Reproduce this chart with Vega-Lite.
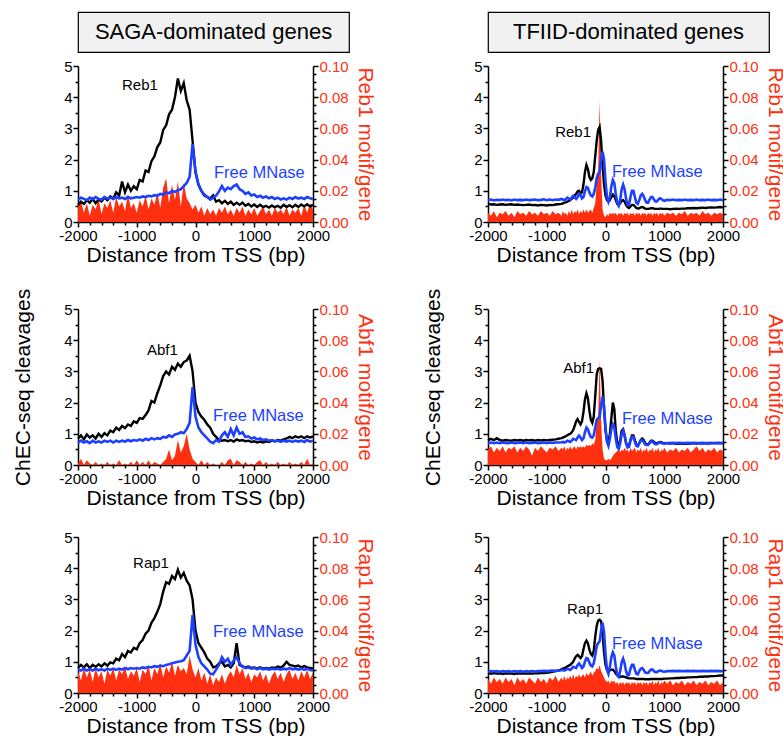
{
"$schema":"https://vega.github.io/schema/vega-lite/v6.json",
"padding":{"left":12,"top":11,"right":5,"bottom":5},
"background":"white",
"config":{"font":"Liberation Sans","view":{"stroke":null},
"axis":{"domainColor":"#000","domainWidth":1.5,"tickColor":"#000","tickWidth":1.5,"labelColor":"#000","labelFont":"Liberation Sans","labelFontSize":15,"titleFont":"Liberation Sans","titleFontWeight":"normal","titleFontSize":21,"titleColor":"#000","grid":false,"labelOverlap":false,"labelBound":false,"labelFlush":false,"labelPadding":1},
"text":{"font":"Liberation Sans"}},
"datasets":{
"lab":[
{"p":"SR","s":"k","x":-640,"y":4.4,"t":"Reb1"},{"p":"SR","s":"f","x":315,"y":1.57,"t":"Free MNase"},
{"p":"SA","s":"k","x":-300,"y":3.7,"t":"Abf1"},{"p":"SA","s":"f","x":297,"y":1.57,"t":"Free MNase"},
{"p":"SP","s":"k","x":-452,"y":4.17,"t":"Rap1"},{"p":"SP","s":"f","x":297,"y":1.96,"t":"Free MNase"},
{"p":"TR","s":"k","x":-247,"y":2.9,"t":"Reb1"},{"p":"TR","s":"f","x":111,"y":1.6,"t":"Free MNase"},
{"p":"TA","s":"k","x":-196,"y":3.1,"t":"Abf1"},{"p":"TA","s":"f","x":281,"y":1.48,"t":"Free MNase"},
{"p":"TP","s":"k","x":-43,"y":2.7,"t":"Rap1"},{"p":"TP","s":"f","x":111,"y":1.57,"t":"Free MNase"}
],
"SR":[
{"x":-2000,"k":0.55,"f":0.72,"m":0.010},{"x":-1950,"k":0.65,"f":0.78,"m":0.014},{"x":-1900,"k":0.58,"f":0.74,"m":0.006},{"x":-1850,"k":0.70,"f":0.70,"m":0.012},{"x":-1800,"k":0.62,"f":0.78,"m":0.004},{"x":-1750,"k":0.74,"f":0.73,"m":0.011},{"x":-1700,"k":0.60,"f":0.80,"m":0.008},{"x":-1650,"k":0.72,"f":0.74,"m":0.015},{"x":-1600,"k":0.66,"f":0.72,"m":0.005},{"x":-1550,"k":0.78,"f":0.80,"m":0.012},{"x":-1500,"k":0.70,"f":0.75,"m":0.009},{"x":-1450,"k":0.82,"f":0.78,"m":0.014},{"x":-1400,"k":0.75,"f":0.74,"m":0.006},{"x":-1350,"k":0.95,"f":0.80,"m":0.016},{"x":-1300,"k":0.85,"f":0.76,"m":0.010},{"x":-1250,"k":1.30,"f":0.78,"m":0.013},{"x":-1200,"k":0.95,"f":0.74,"m":0.007},{"x":-1150,"k":1.20,"f":0.80,"m":0.018},{"x":-1100,"k":1.00,"f":0.76,"m":0.009},{"x":-1050,"k":1.15,"f":0.78,"m":0.012},{"x":-1000,"k":1.05,"f":0.80,"m":0.006},{"x":-950,"k":1.35,"f":0.78,"m":0.014},{"x":-900,"k":1.30,"f":0.82,"m":0.010},{"x":-850,"k":1.65,"f":0.80,"m":0.017},{"x":-800,"k":1.60,"f":0.84,"m":0.008},{"x":-750,"k":1.95,"f":0.82,"m":0.015},{"x":-700,"k":2.10,"f":0.86,"m":0.011},{"x":-650,"k":2.40,"f":0.84,"m":0.019},{"x":-600,"k":2.55,"f":0.90,"m":0.009},{"x":-550,"k":2.95,"f":0.88,"m":0.022},{"x":-500,"k":3.10,"f":0.95,"m":0.028},{"x":-450,"k":3.45,"f":0.92,"m":0.012},{"x":-400,"k":3.60,"f":1.00,"m":0.024},{"x":-350,"k":4.00,"f":0.96,"m":0.014},{"x":-300,"k":4.60,"f":1.02,"m":0.026},{"x":-250,"k":4.20,"f":1.05,"m":0.010},{"x":-200,"k":4.45,"f":1.15,"m":0.025},{"x":-150,"k":3.90,"f":1.25,"m":0.015},{"x":-100,"k":3.60,"f":1.45,"m":0.012},{"x":-50,"k":2.60,"f":2.50,"m":0.008},{"x":0,"k":1.60,"f":1.60,"m":0.011},{"x":50,"k":1.20,"f":1.20,"m":0.006},{"x":100,"k":1.00,"f":1.00,"m":0.010},{"x":150,"k":0.85,"f":0.88,"m":0.004},{"x":200,"k":0.80,"f":0.80,"m":0.009},{"x":250,"k":0.75,"f":0.72,"m":0.005},{"x":300,"k":0.85,"f":0.78,"m":0.008},{"x":350,"k":0.65,"f":0.85,"m":0.004},{"x":400,"k":0.70,"f":0.98,"m":0.009},{"x":450,"k":0.60,"f":1.15,"m":0.006},{"x":500,"k":0.68,"f":1.00,"m":0.010},{"x":550,"k":0.58,"f":1.10,"m":0.005},{"x":600,"k":0.65,"f":1.05,"m":0.008},{"x":650,"k":0.55,"f":1.15,"m":0.004},{"x":700,"k":0.62,"f":1.20,"m":0.009},{"x":750,"k":0.55,"f":1.05,"m":0.006},{"x":800,"k":0.62,"f":1.00,"m":0.010},{"x":850,"k":0.52,"f":0.90,"m":0.004},{"x":900,"k":0.58,"f":0.95,"m":0.008},{"x":950,"k":0.50,"f":0.85,"m":0.005},{"x":1000,"k":0.56,"f":0.88,"m":0.009},{"x":1050,"k":0.48,"f":0.80,"m":0.004},{"x":1100,"k":0.55,"f":0.84,"m":0.007},{"x":1150,"k":0.48,"f":0.78,"m":0.010},{"x":1200,"k":0.52,"f":0.82,"m":0.005},{"x":1250,"k":0.46,"f":0.76,"m":0.008},{"x":1300,"k":0.53,"f":0.80,"m":0.004},{"x":1350,"k":0.47,"f":0.74,"m":0.009},{"x":1400,"k":0.52,"f":0.78,"m":0.006},{"x":1450,"k":0.46,"f":0.72,"m":0.008},{"x":1500,"k":0.55,"f":0.76,"m":0.005},{"x":1550,"k":0.48,"f":0.72,"m":0.010},{"x":1600,"k":0.54,"f":0.78,"m":0.004},{"x":1650,"k":0.47,"f":0.74,"m":0.008},{"x":1700,"k":0.55,"f":0.80,"m":0.006},{"x":1750,"k":0.48,"f":0.75,"m":0.009},{"x":1800,"k":0.56,"f":0.78,"m":0.004},{"x":1850,"k":0.50,"f":0.74,"m":0.011},{"x":1900,"k":0.57,"f":0.80,"m":0.006},{"x":1950,"k":0.50,"f":0.76,"m":0.012},{"x":2000,"k":0.55,"f":0.74,"m":0.008}
],
"SA":[
{"x":-2000,"k":0.85,"f":0.72,"m":0.001},{"x":-1950,"k":0.95,"f":0.78,"m":0.004},{"x":-1900,"k":0.82,"f":0.72,"m":0.000},{"x":-1850,"k":0.98,"f":0.76,"m":0.003},{"x":-1800,"k":0.88,"f":0.70,"m":0.001},{"x":-1750,"k":0.95,"f":0.78,"m":0.000},{"x":-1700,"k":0.85,"f":0.72,"m":0.002},{"x":-1650,"k":1.00,"f":0.76,"m":0.000},{"x":-1600,"k":0.90,"f":0.72,"m":0.001},{"x":-1550,"k":1.02,"f":0.78,"m":0.000},{"x":-1500,"k":0.95,"f":0.74,"m":0.002},{"x":-1450,"k":1.10,"f":0.78,"m":0.000},{"x":-1400,"k":1.05,"f":0.72,"m":0.001},{"x":-1350,"k":1.20,"f":0.78,"m":0.000},{"x":-1300,"k":1.12,"f":0.74,"m":0.003},{"x":-1250,"k":1.25,"f":0.78,"m":0.000},{"x":-1200,"k":1.18,"f":0.75,"m":0.001},{"x":-1150,"k":1.30,"f":0.80,"m":0.000},{"x":-1100,"k":1.25,"f":0.76,"m":0.002},{"x":-1050,"k":1.40,"f":0.80,"m":0.000},{"x":-1000,"k":1.35,"f":0.78,"m":0.003},{"x":-950,"k":1.50,"f":0.82,"m":0.000},{"x":-900,"k":1.48,"f":0.78,"m":0.002},{"x":-850,"k":1.60,"f":0.84,"m":0.000},{"x":-800,"k":1.75,"f":0.80,"m":0.003},{"x":-750,"k":2.05,"f":0.86,"m":0.000},{"x":-700,"k":2.00,"f":0.82,"m":0.002},{"x":-650,"k":2.30,"f":0.86,"m":0.001},{"x":-600,"k":2.55,"f":0.84,"m":0.000},{"x":-550,"k":2.85,"f":0.90,"m":0.002},{"x":-500,"k":3.00,"f":0.88,"m":0.004},{"x":-450,"k":2.90,"f":0.95,"m":0.010},{"x":-400,"k":3.15,"f":0.90,"m":0.003},{"x":-350,"k":3.05,"f":0.98,"m":0.006},{"x":-300,"k":3.25,"f":1.00,"m":0.016},{"x":-250,"k":3.15,"f":1.05,"m":0.008},{"x":-200,"k":3.30,"f":1.02,"m":0.012},{"x":-150,"k":3.35,"f":1.15,"m":0.020},{"x":-100,"k":3.50,"f":1.35,"m":0.010},{"x":-50,"k":3.00,"f":2.50,"m":0.004},{"x":0,"k":2.00,"f":1.55,"m":0.002},{"x":50,"k":1.70,"f":1.20,"m":0.000},{"x":100,"k":1.55,"f":1.05,"m":0.003},{"x":150,"k":1.45,"f":0.95,"m":0.000},{"x":200,"k":1.30,"f":0.85,"m":0.002},{"x":250,"k":1.20,"f":0.75,"m":0.000},{"x":300,"k":1.00,"f":0.70,"m":0.001},{"x":350,"k":0.90,"f":0.80,"m":0.000},{"x":400,"k":0.80,"f":0.75,"m":0.000},{"x":450,"k":0.78,"f":0.95,"m":0.002},{"x":500,"k":0.80,"f":1.05,"m":0.000},{"x":550,"k":0.76,"f":0.90,"m":0.003},{"x":600,"k":0.80,"f":1.15,"m":0.004},{"x":650,"k":0.75,"f":0.95,"m":0.000},{"x":700,"k":0.82,"f":1.20,"m":0.003},{"x":750,"k":0.78,"f":1.00,"m":0.002},{"x":800,"k":0.80,"f":1.05,"m":0.000},{"x":850,"k":0.76,"f":0.90,"m":0.002},{"x":900,"k":0.78,"f":0.92,"m":0.000},{"x":950,"k":0.74,"f":0.85,"m":0.001},{"x":1000,"k":0.76,"f":0.88,"m":0.000},{"x":1050,"k":0.72,"f":0.82,"m":0.002},{"x":1100,"k":0.75,"f":0.85,"m":0.003},{"x":1150,"k":0.72,"f":0.80,"m":0.000},{"x":1200,"k":0.76,"f":0.82,"m":0.002},{"x":1250,"k":0.74,"f":0.78,"m":0.000},{"x":1300,"k":0.78,"f":0.80,"m":0.001},{"x":1350,"k":0.76,"f":0.76,"m":0.000},{"x":1400,"k":0.80,"f":0.78,"m":0.002},{"x":1450,"k":0.78,"f":0.74,"m":0.000},{"x":1500,"k":0.82,"f":0.78,"m":0.001},{"x":1550,"k":0.85,"f":0.75,"m":0.000},{"x":1600,"k":0.90,"f":0.78,"m":0.002},{"x":1650,"k":0.86,"f":0.74,"m":0.000},{"x":1700,"k":0.92,"f":0.78,"m":0.001},{"x":1750,"k":0.88,"f":0.75,"m":0.000},{"x":1800,"k":0.92,"f":0.78,"m":0.002},{"x":1850,"k":0.86,"f":0.74,"m":0.000},{"x":1900,"k":0.92,"f":0.80,"m":0.004},{"x":1950,"k":0.88,"f":0.75,"m":0.000},{"x":2000,"k":0.92,"f":0.78,"m":0.001}
],
"SP":[
{"x":-2000,"k":0.80,"f":0.75,"m":0.014},{"x":-1950,"k":0.90,"f":0.72,"m":0.008},{"x":-1900,"k":0.82,"f":0.78,"m":0.016},{"x":-1850,"k":0.92,"f":0.72,"m":0.010},{"x":-1800,"k":0.80,"f":0.76,"m":0.015},{"x":-1750,"k":0.90,"f":0.72,"m":0.007},{"x":-1700,"k":0.84,"f":0.78,"m":0.016},{"x":-1650,"k":0.92,"f":0.73,"m":0.010},{"x":-1600,"k":0.85,"f":0.76,"m":0.014},{"x":-1550,"k":0.95,"f":0.72,"m":0.006},{"x":-1500,"k":0.88,"f":0.78,"m":0.015},{"x":-1450,"k":0.98,"f":0.74,"m":0.011},{"x":-1400,"k":0.95,"f":0.78,"m":0.016},{"x":-1350,"k":1.10,"f":0.74,"m":0.008},{"x":-1300,"k":1.05,"f":0.78,"m":0.015},{"x":-1250,"k":1.25,"f":0.75,"m":0.012},{"x":-1200,"k":1.15,"f":0.80,"m":0.017},{"x":-1150,"k":1.35,"f":0.76,"m":0.009},{"x":-1100,"k":1.30,"f":0.80,"m":0.014},{"x":-1050,"k":1.45,"f":0.78,"m":0.011},{"x":-1000,"k":1.40,"f":0.80,"m":0.016},{"x":-950,"k":1.60,"f":0.78,"m":0.007},{"x":-900,"k":1.70,"f":0.82,"m":0.015},{"x":-850,"k":1.90,"f":0.80,"m":0.012},{"x":-800,"k":2.00,"f":0.84,"m":0.018},{"x":-750,"k":2.25,"f":0.82,"m":0.008},{"x":-700,"k":2.40,"f":0.86,"m":0.016},{"x":-650,"k":2.60,"f":0.84,"m":0.012},{"x":-600,"k":2.85,"f":0.88,"m":0.019},{"x":-550,"k":3.25,"f":0.86,"m":0.010},{"x":-500,"k":3.55,"f":0.90,"m":0.017},{"x":-450,"k":3.50,"f":0.92,"m":0.013},{"x":-400,"k":3.75,"f":0.95,"m":0.020},{"x":-350,"k":3.65,"f":0.98,"m":0.011},{"x":-300,"k":3.95,"f":1.00,"m":0.018},{"x":-250,"k":3.70,"f":1.02,"m":0.014},{"x":-200,"k":3.85,"f":1.05,"m":0.016},{"x":-150,"k":3.60,"f":1.20,"m":0.012},{"x":-100,"k":3.45,"f":1.35,"m":0.024},{"x":-50,"k":3.00,"f":2.50,"m":0.015},{"x":0,"k":2.00,"f":1.55,"m":0.010},{"x":50,"k":1.60,"f":1.15,"m":0.016},{"x":100,"k":1.45,"f":0.95,"m":0.008},{"x":150,"k":1.30,"f":0.85,"m":0.013},{"x":200,"k":1.10,"f":0.75,"m":0.006},{"x":250,"k":1.00,"f":0.62,"m":0.012},{"x":300,"k":0.82,"f":0.60,"m":0.005},{"x":350,"k":0.85,"f":0.75,"m":0.010},{"x":400,"k":0.95,"f":0.90,"m":0.007},{"x":450,"k":1.00,"f":1.15,"m":0.012},{"x":500,"k":0.85,"f":1.00,"m":0.006},{"x":550,"k":0.90,"f":1.10,"m":0.011},{"x":600,"k":0.82,"f":0.90,"m":0.014},{"x":650,"k":0.95,"f":1.05,"m":0.010},{"x":700,"k":1.60,"f":1.15,"m":0.018},{"x":750,"k":0.90,"f":0.95,"m":0.012},{"x":800,"k":0.85,"f":0.85,"m":0.016},{"x":850,"k":0.82,"f":0.80,"m":0.009},{"x":900,"k":0.85,"f":0.82,"m":0.013},{"x":950,"k":0.80,"f":0.78,"m":0.007},{"x":1000,"k":0.82,"f":0.80,"m":0.012},{"x":1050,"k":0.78,"f":0.76,"m":0.010},{"x":1100,"k":0.82,"f":0.80,"m":0.014},{"x":1150,"k":0.78,"f":0.76,"m":0.008},{"x":1200,"k":0.80,"f":0.78,"m":0.012},{"x":1250,"k":0.78,"f":0.75,"m":0.006},{"x":1300,"k":0.82,"f":0.78,"m":0.011},{"x":1350,"k":0.80,"f":0.76,"m":0.014},{"x":1400,"k":0.85,"f":0.78,"m":0.009},{"x":1450,"k":0.82,"f":0.75,"m":0.013},{"x":1500,"k":0.88,"f":0.78,"m":0.007},{"x":1550,"k":1.00,"f":0.76,"m":0.012},{"x":1600,"k":0.90,"f":0.80,"m":0.015},{"x":1650,"k":0.88,"f":0.76,"m":0.009},{"x":1700,"k":0.85,"f":0.78,"m":0.013},{"x":1750,"k":0.88,"f":0.75,"m":0.008},{"x":1800,"k":0.82,"f":0.78,"m":0.014},{"x":1850,"k":0.86,"f":0.74,"m":0.010},{"x":1900,"k":0.82,"f":0.78,"m":0.015},{"x":1950,"k":0.80,"f":0.74,"m":0.009},{"x":2000,"k":0.78,"f":0.72,"m":0.013}
],
"TR":[
{"x":-2000,"k":0.58,"f":0.70,"m":0.006},{"x":-1950,"k":0.56,"f":0.72,"m":0.004},{"x":-1900,"k":0.57,"f":0.69,"m":0.007},{"x":-1850,"k":0.55,"f":0.71,"m":0.003},{"x":-1800,"k":0.56,"f":0.70,"m":0.006},{"x":-1750,"k":0.57,"f":0.72,"m":0.005},{"x":-1700,"k":0.55,"f":0.70,"m":0.007},{"x":-1650,"k":0.56,"f":0.71,"m":0.004},{"x":-1600,"k":0.57,"f":0.69,"m":0.006},{"x":-1550,"k":0.55,"f":0.72,"m":0.003},{"x":-1500,"k":0.56,"f":0.70,"m":0.007},{"x":-1450,"k":0.55,"f":0.71,"m":0.005},{"x":-1400,"k":0.54,"f":0.70,"m":0.006},{"x":-1350,"k":0.55,"f":0.72,"m":0.004},{"x":-1300,"k":0.56,"f":0.70,"m":0.007},{"x":-1250,"k":0.54,"f":0.71,"m":0.005},{"x":-1200,"k":0.55,"f":0.72,"m":0.006},{"x":-1150,"k":0.53,"f":0.70,"m":0.004},{"x":-1100,"k":0.55,"f":0.71,"m":0.007},{"x":-1050,"k":0.54,"f":0.73,"m":0.005},{"x":-1000,"k":0.53,"f":0.70,"m":0.006},{"x":-950,"k":0.55,"f":0.72,"m":0.004},{"x":-900,"k":0.54,"f":0.70,"m":0.007},{"x":-850,"k":0.56,"f":0.72,"m":0.005},{"x":-800,"k":0.57,"f":0.71,"m":0.006},{"x":-750,"k":0.58,"f":0.74,"m":0.004},
{"x":-725,"k":0.60,"f":0.72,"m":0.007},{"x":-700,"k":0.62,"f":0.70,"m":0.005},{"x":-675,"k":0.63,"f":0.74,"m":0.006},{"x":-650,"k":0.65,"f":0.78,"m":0.004},{"x":-625,"k":0.68,"f":0.75,"m":0.007},{"x":-600,"k":0.70,"f":0.72,"m":0.005},{"x":-575,"k":0.74,"f":0.78,"m":0.008},{"x":-550,"k":0.78,"f":0.84,"m":0.005},{"x":-525,"k":0.85,"f":0.80,"m":0.007},{"x":-500,"k":0.90,"f":0.74,"m":0.006},{"x":-475,"k":0.98,"f":0.80,"m":0.008},{"x":-450,"k":1.00,"f":0.90,"m":0.005},{"x":-425,"k":0.92,"f":0.86,"m":0.007},{"x":-400,"k":0.95,"f":0.76,"m":0.006},{"x":-375,"k":1.20,"f":0.80,"m":0.008},{"x":-350,"k":1.60,"f":0.98,"m":0.006},{"x":-325,"k":1.83,"f":1.12,"m":0.008},{"x":-300,"k":1.70,"f":1.10,"m":0.006},{"x":-275,"k":1.45,"f":0.95,"m":0.007},{"x":-250,"k":1.35,"f":0.85,"m":0.008},{"x":-225,"k":1.40,"f":0.82,"m":0.006},{"x":-200,"k":1.60,"f":0.90,"m":0.009},{"x":-175,"k":2.10,"f":1.10,"m":0.012},{"x":-150,"k":2.60,"f":1.40,"m":0.024},{"x":-125,"k":2.95,"f":1.55,"m":0.032},{"x":-100,"k":3.05,"f":1.60,"m":0.078},{"x":-75,"k":2.60,"f":2.00,"m":0.030},{"x":-50,"k":1.80,"f":2.25,"m":0.008},{"x":-25,"k":1.20,"f":2.00,"m":0.004},{"x":0,"k":0.85,"f":1.30,"m":0.003},{"x":25,"k":0.70,"f":0.80,"m":0.005},{"x":50,"k":0.65,"f":0.65,"m":0.004},{"x":75,"k":0.70,"f":0.80,"m":0.006},{"x":100,"k":0.80,"f":1.15,"m":0.005},{"x":125,"k":0.88,"f":1.35,"m":0.006},{"x":150,"k":0.82,"f":1.25,"m":0.005},{"x":175,"k":0.70,"f":0.90,"m":0.006},{"x":200,"k":0.58,"f":0.62,"m":0.004},{"x":225,"k":0.55,"f":0.52,"m":0.006},{"x":250,"k":0.60,"f":0.70,"m":0.005},{"x":275,"k":0.68,"f":1.05,"m":0.006},{"x":300,"k":0.70,"f":1.20,"m":0.004},{"x":325,"k":0.65,"f":1.05,"m":0.006},{"x":350,"k":0.55,"f":0.75,"m":0.005},{"x":375,"k":0.48,"f":0.55,"m":0.006},{"x":400,"k":0.45,"f":0.55,"m":0.004},{"x":425,"k":0.50,"f":0.80,"m":0.006},{"x":450,"k":0.55,"f":1.00,"m":0.005},{"x":475,"k":0.55,"f":1.00,"m":0.006},{"x":500,"k":0.50,"f":0.80,"m":0.004},{"x":525,"k":0.45,"f":0.62,"m":0.006},{"x":550,"k":0.43,"f":0.58,"m":0.005},{"x":575,"k":0.44,"f":0.70,"m":0.006},{"x":600,"k":0.47,"f":0.85,"m":0.004},{"x":625,"k":0.48,"f":0.90,"m":0.006},{"x":650,"k":0.46,"f":0.82,"m":0.005},{"x":675,"k":0.43,"f":0.70,"m":0.006},{"x":700,"k":0.42,"f":0.62,"m":0.004},{"x":725,"k":0.42,"f":0.62,"m":0.006},{"x":750,"k":0.43,"f":0.72,"m":0.005},{"x":775,"k":0.44,"f":0.80,"m":0.006},{"x":800,"k":0.44,"f":0.80,"m":0.004},{"x":825,"k":0.43,"f":0.72,"m":0.006},{"x":850,"k":0.42,"f":0.66,"m":0.005},{"x":875,"k":0.42,"f":0.66,"m":0.006},{"x":900,"k":0.42,"f":0.72,"m":0.004},{"x":925,"k":0.43,"f":0.76,"m":0.006},{"x":950,"k":0.43,"f":0.74,"m":0.005},{"x":975,"k":0.42,"f":0.70,"m":0.006},{"x":1000,"k":0.42,"f":0.68,"m":0.004},
{"x":1050,"k":0.42,"f":0.71,"m":0.006},{"x":1100,"k":0.41,"f":0.70,"m":0.005},{"x":1150,"k":0.42,"f":0.72,"m":0.006},{"x":1200,"k":0.43,"f":0.70,"m":0.004},{"x":1250,"k":0.42,"f":0.71,"m":0.006},{"x":1300,"k":0.43,"f":0.70,"m":0.005},{"x":1350,"k":0.43,"f":0.72,"m":0.007},{"x":1400,"k":0.44,"f":0.70,"m":0.004},{"x":1450,"k":0.44,"f":0.71,"m":0.006},{"x":1500,"k":0.45,"f":0.70,"m":0.005},{"x":1550,"k":0.44,"f":0.72,"m":0.006},{"x":1600,"k":0.45,"f":0.70,"m":0.004},{"x":1650,"k":0.46,"f":0.71,"m":0.007},{"x":1700,"k":0.45,"f":0.70,"m":0.005},{"x":1750,"k":0.46,"f":0.72,"m":0.006},{"x":1800,"k":0.47,"f":0.70,"m":0.004},{"x":1850,"k":0.46,"f":0.71,"m":0.006},{"x":1900,"k":0.47,"f":0.70,"m":0.005},{"x":1950,"k":0.48,"f":0.72,"m":0.006},{"x":2000,"k":0.47,"f":0.70,"m":0.005}
],
"TA":[
{"x":-2000,"k":0.80,"f":0.70,"m":0.010},{"x":-1950,"k":0.84,"f":0.72,"m":0.012},{"x":-1900,"k":0.80,"f":0.70,"m":0.008},{"x":-1850,"k":0.86,"f":0.72,"m":0.011},{"x":-1800,"k":0.80,"f":0.70,"m":0.009},{"x":-1750,"k":0.78,"f":0.72,"m":0.012},{"x":-1700,"k":0.80,"f":0.71,"m":0.008},{"x":-1650,"k":0.79,"f":0.70,"m":0.011},{"x":-1600,"k":0.78,"f":0.72,"m":0.010},{"x":-1550,"k":0.80,"f":0.70,"m":0.012},{"x":-1500,"k":0.79,"f":0.71,"m":0.008},{"x":-1450,"k":0.80,"f":0.72,"m":0.011},{"x":-1400,"k":0.78,"f":0.70,"m":0.009},{"x":-1350,"k":0.80,"f":0.72,"m":0.012},{"x":-1300,"k":0.79,"f":0.70,"m":0.010},{"x":-1250,"k":0.80,"f":0.71,"m":0.006},{"x":-1200,"k":0.78,"f":0.72,"m":0.011},{"x":-1150,"k":0.80,"f":0.70,"m":0.009},{"x":-1100,"k":0.79,"f":0.71,"m":0.012},{"x":-1050,"k":0.80,"f":0.72,"m":0.010},{"x":-1000,"k":0.79,"f":0.70,"m":0.008},{"x":-950,"k":0.80,"f":0.72,"m":0.011},{"x":-900,"k":0.81,"f":0.71,"m":0.010},{"x":-850,"k":0.82,"f":0.72,"m":0.012},{"x":-800,"k":0.84,"f":0.72,"m":0.009},{"x":-750,"k":0.86,"f":0.73,"m":0.011},
{"x":-725,"k":0.88,"f":0.74,"m":0.010},{"x":-700,"k":0.90,"f":0.72,"m":0.012},{"x":-675,"k":0.92,"f":0.74,"m":0.009},{"x":-650,"k":0.95,"f":0.78,"m":0.011},{"x":-625,"k":0.98,"f":0.76,"m":0.010},{"x":-600,"k":1.00,"f":0.74,"m":0.012},{"x":-575,"k":1.05,"f":0.78,"m":0.010},{"x":-550,"k":1.12,"f":0.84,"m":0.011},{"x":-525,"k":1.25,"f":0.82,"m":0.012},{"x":-500,"k":1.40,"f":0.80,"m":0.010},{"x":-475,"k":1.47,"f":0.88,"m":0.012},{"x":-450,"k":1.38,"f":0.94,"m":0.011},{"x":-425,"k":1.30,"f":0.88,"m":0.012},{"x":-400,"k":1.40,"f":0.80,"m":0.011},{"x":-375,"k":1.70,"f":0.85,"m":0.012},{"x":-350,"k":2.10,"f":1.05,"m":0.011},{"x":-325,"k":2.30,"f":1.20,"m":0.013},{"x":-300,"k":2.15,"f":1.15,"m":0.012},{"x":-275,"k":1.75,"f":1.00,"m":0.013},{"x":-250,"k":1.45,"f":0.90,"m":0.012},{"x":-225,"k":1.35,"f":0.88,"m":0.014},{"x":-200,"k":1.55,"f":0.95,"m":0.013},{"x":-175,"k":2.20,"f":1.20,"m":0.016},{"x":-150,"k":2.90,"f":1.45,"m":0.028},{"x":-125,"k":3.08,"f":1.50,"m":0.030},{"x":-100,"k":3.10,"f":1.55,"m":0.068},{"x":-75,"k":3.08,"f":1.90,"m":0.028},{"x":-50,"k":2.70,"f":2.20,"m":0.010},{"x":-25,"k":1.80,"f":1.90,"m":0.004},{"x":0,"k":1.10,"f":1.20,"m":0.003},{"x":25,"k":0.80,"f":0.75,"m":0.003},{"x":50,"k":0.75,"f":0.62,"m":0.004},{"x":75,"k":1.00,"f":0.85,"m":0.003},{"x":100,"k":1.50,"f":1.15,"m":0.004},{"x":125,"k":2.00,"f":1.30,"m":0.006},{"x":150,"k":1.80,"f":1.20,"m":0.007},{"x":175,"k":1.10,"f":0.85,"m":0.008},{"x":200,"k":0.70,"f":0.58,"m":0.009},{"x":225,"k":0.60,"f":0.52,"m":0.010},{"x":250,"k":0.80,"f":0.70,"m":0.008},{"x":275,"k":1.10,"f":0.98,"m":0.010},{"x":300,"k":1.15,"f":1.10,"m":0.009},{"x":325,"k":0.95,"f":0.95,"m":0.011},{"x":350,"k":0.70,"f":0.70,"m":0.009},{"x":375,"k":0.60,"f":0.56,"m":0.010},{"x":400,"k":0.62,"f":0.58,"m":0.008},{"x":425,"k":0.80,"f":0.78,"m":0.011},{"x":450,"k":0.95,"f":0.90,"m":0.009},{"x":475,"k":0.95,"f":0.90,"m":0.010},{"x":500,"k":0.80,"f":0.75,"m":0.011},{"x":525,"k":0.65,"f":0.62,"m":0.008},{"x":550,"k":0.62,"f":0.60,"m":0.010},{"x":575,"k":0.70,"f":0.70,"m":0.009},{"x":600,"k":0.80,"f":0.78,"m":0.011},{"x":625,"k":0.85,"f":0.80,"m":0.008},{"x":650,"k":0.80,"f":0.74,"m":0.010},{"x":675,"k":0.70,"f":0.66,"m":0.009},{"x":700,"k":0.66,"f":0.64,"m":0.011},{"x":725,"k":0.66,"f":0.64,"m":0.008},{"x":750,"k":0.72,"f":0.70,"m":0.010},{"x":775,"k":0.78,"f":0.75,"m":0.009},{"x":800,"k":0.78,"f":0.75,"m":0.011},{"x":825,"k":0.74,"f":0.70,"m":0.008},{"x":850,"k":0.70,"f":0.67,"m":0.010},{"x":875,"k":0.70,"f":0.67,"m":0.009},{"x":900,"k":0.72,"f":0.70,"m":0.011},{"x":925,"k":0.74,"f":0.72,"m":0.008},{"x":950,"k":0.73,"f":0.71,"m":0.010},{"x":975,"k":0.71,"f":0.69,"m":0.009},{"x":1000,"k":0.70,"f":0.68,"m":0.011},
{"x":1050,"k":0.70,"f":0.70,"m":0.008},{"x":1100,"k":0.69,"f":0.70,"m":0.010},{"x":1150,"k":0.70,"f":0.71,"m":0.009},{"x":1200,"k":0.68,"f":0.70,"m":0.011},{"x":1250,"k":0.69,"f":0.71,"m":0.008},{"x":1300,"k":0.68,"f":0.70,"m":0.010},{"x":1350,"k":0.69,"f":0.70,"m":0.009},{"x":1400,"k":0.68,"f":0.71,"m":0.011},{"x":1450,"k":0.69,"f":0.70,"m":0.008},{"x":1500,"k":0.70,"f":0.71,"m":0.010},{"x":1550,"k":0.69,"f":0.70,"m":0.012},{"x":1600,"k":0.70,"f":0.70,"m":0.009},{"x":1650,"k":0.69,"f":0.71,"m":0.011},{"x":1700,"k":0.70,"f":0.70,"m":0.008},{"x":1750,"k":0.69,"f":0.70,"m":0.010},{"x":1800,"k":0.70,"f":0.71,"m":0.009},{"x":1850,"k":0.70,"f":0.70,"m":0.011},{"x":1900,"k":0.71,"f":0.70,"m":0.008},{"x":1950,"k":0.70,"f":0.71,"m":0.010},{"x":2000,"k":0.70,"f":0.70,"m":0.009}
],
"TP":[
{"x":-2000,"k":0.65,"f":0.68,"m":0.009},{"x":-1950,"k":0.62,"f":0.70,"m":0.006},{"x":-1900,"k":0.64,"f":0.69,"m":0.010},{"x":-1850,"k":0.62,"f":0.70,"m":0.007},{"x":-1800,"k":0.63,"f":0.68,"m":0.009},{"x":-1750,"k":0.61,"f":0.70,"m":0.006},{"x":-1700,"k":0.63,"f":0.69,"m":0.010},{"x":-1650,"k":0.62,"f":0.70,"m":0.007},{"x":-1600,"k":0.62,"f":0.68,"m":0.009},{"x":-1550,"k":0.61,"f":0.70,"m":0.005},{"x":-1500,"k":0.63,"f":0.69,"m":0.010},{"x":-1450,"k":0.62,"f":0.70,"m":0.007},{"x":-1400,"k":0.63,"f":0.68,"m":0.009},{"x":-1350,"k":0.62,"f":0.70,"m":0.006},{"x":-1300,"k":0.63,"f":0.69,"m":0.010},{"x":-1250,"k":0.62,"f":0.70,"m":0.008},{"x":-1200,"k":0.63,"f":0.69,"m":0.006},{"x":-1150,"k":0.63,"f":0.70,"m":0.010},{"x":-1100,"k":0.64,"f":0.70,"m":0.007},{"x":-1050,"k":0.64,"f":0.71,"m":0.009},{"x":-1000,"k":0.65,"f":0.70,"m":0.006},{"x":-950,"k":0.66,"f":0.71,"m":0.010},{"x":-900,"k":0.68,"f":0.72,"m":0.008},{"x":-850,"k":0.70,"f":0.71,"m":0.011},{"x":-800,"k":0.72,"f":0.72,"m":0.007},{"x":-750,"k":0.76,"f":0.73,"m":0.010},
{"x":-725,"k":0.78,"f":0.74,"m":0.008},{"x":-700,"k":0.80,"f":0.72,"m":0.011},{"x":-675,"k":0.82,"f":0.74,"m":0.008},{"x":-650,"k":0.85,"f":0.78,"m":0.010},{"x":-625,"k":0.88,"f":0.76,"m":0.009},{"x":-600,"k":0.90,"f":0.74,"m":0.011},{"x":-575,"k":0.95,"f":0.78,"m":0.009},{"x":-550,"k":1.00,"f":0.84,"m":0.012},{"x":-525,"k":1.10,"f":0.82,"m":0.009},{"x":-500,"k":1.18,"f":0.80,"m":0.011},{"x":-475,"k":1.22,"f":0.90,"m":0.010},{"x":-450,"k":1.18,"f":0.95,"m":0.012},{"x":-425,"k":1.12,"f":0.88,"m":0.010},{"x":-400,"k":1.18,"f":0.80,"m":0.011},{"x":-375,"k":1.40,"f":0.85,"m":0.012},{"x":-350,"k":1.60,"f":1.00,"m":0.010},{"x":-325,"k":1.68,"f":1.12,"m":0.013},{"x":-300,"k":1.60,"f":1.10,"m":0.011},{"x":-275,"k":1.40,"f":0.98,"m":0.012},{"x":-250,"k":1.25,"f":0.88,"m":0.014},{"x":-225,"k":1.20,"f":0.85,"m":0.011},{"x":-200,"k":1.35,"f":0.95,"m":0.013},{"x":-175,"k":1.80,"f":1.20,"m":0.014},{"x":-150,"k":2.15,"f":1.50,"m":0.016},{"x":-125,"k":2.32,"f":1.60,"m":0.015},{"x":-100,"k":2.35,"f":1.65,"m":0.018},{"x":-75,"k":2.30,"f":2.00,"m":0.014},{"x":-50,"k":1.90,"f":2.25,"m":0.012},{"x":-25,"k":1.30,"f":1.95,"m":0.010},{"x":0,"k":0.90,"f":1.25,"m":0.008},{"x":25,"k":0.75,"f":0.75,"m":0.007},{"x":50,"k":0.70,"f":0.62,"m":0.008},{"x":75,"k":0.72,"f":0.85,"m":0.006},{"x":100,"k":0.75,"f":1.15,"m":0.008},{"x":125,"k":0.75,"f":1.30,"m":0.007},{"x":150,"k":0.70,"f":1.20,"m":0.008},{"x":175,"k":0.62,"f":0.85,"m":0.006},{"x":200,"k":0.56,"f":0.58,"m":0.007},{"x":225,"k":0.52,"f":0.52,"m":0.005},{"x":250,"k":0.52,"f":0.70,"m":0.007},{"x":275,"k":0.53,"f":0.98,"m":0.006},{"x":300,"k":0.53,"f":1.10,"m":0.007},{"x":325,"k":0.52,"f":0.95,"m":0.005},{"x":350,"k":0.50,"f":0.70,"m":0.007},{"x":375,"k":0.48,"f":0.56,"m":0.006},{"x":400,"k":0.47,"f":0.58,"m":0.007},{"x":425,"k":0.47,"f":0.78,"m":0.005},{"x":450,"k":0.47,"f":0.90,"m":0.007},{"x":475,"k":0.47,"f":0.90,"m":0.006},{"x":500,"k":0.46,"f":0.75,"m":0.007},{"x":525,"k":0.45,"f":0.62,"m":0.005},{"x":550,"k":0.45,"f":0.60,"m":0.007},{"x":575,"k":0.45,"f":0.70,"m":0.006},{"x":600,"k":0.45,"f":0.78,"m":0.007},{"x":625,"k":0.45,"f":0.80,"m":0.005},{"x":650,"k":0.45,"f":0.74,"m":0.007},{"x":675,"k":0.44,"f":0.66,"m":0.006},{"x":700,"k":0.44,"f":0.64,"m":0.007},{"x":725,"k":0.44,"f":0.64,"m":0.005},{"x":750,"k":0.44,"f":0.70,"m":0.007},{"x":775,"k":0.45,"f":0.75,"m":0.006},{"x":800,"k":0.45,"f":0.75,"m":0.008},{"x":825,"k":0.45,"f":0.70,"m":0.005},{"x":850,"k":0.45,"f":0.67,"m":0.007},{"x":875,"k":0.45,"f":0.67,"m":0.006},{"x":900,"k":0.45,"f":0.70,"m":0.008},{"x":925,"k":0.45,"f":0.72,"m":0.005},{"x":950,"k":0.45,"f":0.71,"m":0.007},{"x":975,"k":0.45,"f":0.69,"m":0.006},{"x":1000,"k":0.46,"f":0.68,"m":0.008},
{"x":1050,"k":0.46,"f":0.70,"m":0.006},{"x":1100,"k":0.47,"f":0.70,"m":0.008},{"x":1150,"k":0.47,"f":0.71,"m":0.005},{"x":1200,"k":0.48,"f":0.70,"m":0.007},{"x":1250,"k":0.48,"f":0.71,"m":0.006},{"x":1300,"k":0.49,"f":0.70,"m":0.008},{"x":1350,"k":0.49,"f":0.70,"m":0.005},{"x":1400,"k":0.50,"f":0.71,"m":0.007},{"x":1450,"k":0.50,"f":0.70,"m":0.006},{"x":1500,"k":0.51,"f":0.71,"m":0.008},{"x":1550,"k":0.51,"f":0.70,"m":0.005},{"x":1600,"k":0.52,"f":0.70,"m":0.007},{"x":1650,"k":0.52,"f":0.71,"m":0.006},{"x":1700,"k":0.53,"f":0.70,"m":0.008},{"x":1750,"k":0.53,"f":0.70,"m":0.005},{"x":1800,"k":0.54,"f":0.71,"m":0.007},{"x":1850,"k":0.54,"f":0.70,"m":0.006},{"x":1900,"k":0.55,"f":0.71,"m":0.008},{"x":1950,"k":0.56,"f":0.70,"m":0.005},{"x":2000,"k":0.56,"f":0.70,"m":0.007}
]
},
"vconcat":[
{"vconcat":[
 {"hconcat":[
  {"width":271,"height":40,"view":{"fill":"#f1f1f1","stroke":"#000","strokeWidth":1.2},"data":{"values":[{"t":"SAGA-dominated genes"}]},"mark":{"type":"text","fontSize":22,"color":"#000"},"encoding":{"text":{"field":"t"}}},
  {"width":281,"height":40,"view":{"fill":"#f1f1f1","stroke":"#000","strokeWidth":1.2},"data":{"values":[{"t":"TFIID-dominated genes"}]},"mark":{"type":"text","fontSize":22,"color":"#000"},"encoding":{"text":{"field":"t"}}}
 ],"spacing":137},
 {"hconcat":[
  {"width":235,"height":156,"data":{"name":"SR"},"layer":[
   {"mark":{"type":"area","color":"#ff3010"},"encoding":{"x":{"field":"x","type":"quantitative","scale":{"domain":[-2000,2000],"nice":false},"axis":{"orient":"bottom","values":[-1800,-1600,-1400,-1200,-800,-600,-400,-200,200,400,600,800,1200,1400,1600,1800],"labels":false,"domain":false,"tickSize":3,"title":null}},"y":{"field":"m","type":"quantitative","scale":{"domain":[0,0.1],"nice":false},"axis":{"orient":"right","values":[0,0.005,0.01,0.015,0.02,0.025,0.03,0.035,0.04,0.045,0.05,0.055,0.06,0.065,0.07,0.075,0.08,0.085,0.09,0.095,0.1],"labelExpr":"round(datum.value*1000) % 20 === 0 ? format(datum.value, '.2f') : ''","tickSize":{"condition":{"test":"round(datum.value*1000) % 20 === 0","value":5},"value":3},"labelColor":"#ff3010","title":"Reb1 motif/gene","titleColor":"#ff3010","titlePadding":6}}}},
   {"mark":{"type":"line","color":"#000","strokeWidth":2.4},"encoding":{"x":{"field":"x","type":"quantitative","axis":{"orient":"bottom","values":[-2000,-1000,0,1000,2000],"labelExpr":"'' + datum.value","tickSize":5,"title":"Distance from TSS (bp)","titlePadding":1}},"y":{"field":"k","type":"quantitative","scale":{"domain":[0,5],"nice":false},"axis":{"values":[0,0.5,1,1.5,2,2.5,3,3.5,4,4.5,5],"labelExpr":"datum.value % 1 === 0 ? '' + datum.value : ''","tickSize":{"condition":{"test":"datum.value % 1 === 0","value":5},"value":3},"title":"C","titleColor":"#ffffff","titlePadding":30}}}},
   {"mark":{"type":"line","color":"#1d3fff","strokeWidth":2.6},"encoding":{"x":{"field":"x","type":"quantitative","axis":null},"y":{"field":"f","type":"quantitative","scale":{"domain":[0,5],"nice":false},"axis":null}}},
   {"data":{"name":"lab"},"transform":[{"filter":"datum.p === 'SR' && datum.s === 'k'"}],"mark":{"type":"text","align":"right","fontSize":15,"color":"#000"},"encoding":{"x":{"field":"x","type":"quantitative","axis":null},"y":{"field":"y","type":"quantitative","scale":{"domain":[0,5],"nice":false},"axis":null},"text":{"field":"t"}}},
   {"data":{"name":"lab"},"transform":[{"filter":"datum.p === 'SR' && datum.s === 'f'"}],"mark":{"type":"text","align":"left","fontSize":16.5,"color":"#1d3fff"},"encoding":{"x":{"field":"x","type":"quantitative","axis":null},"y":{"field":"y","type":"quantitative","scale":{"domain":[0,5],"nice":false},"axis":null},"text":{"field":"t"}}}
  ],"resolve":{"scale":{"y":"independent"},"axis":{"x":"independent"}}},
  {"width":235,"height":156,"data":{"name":"TR"},"layer":[
   {"mark":{"type":"area","color":"#ff3010"},"encoding":{"x":{"field":"x","type":"quantitative","scale":{"domain":[-2000,2000],"nice":false},"axis":{"orient":"bottom","values":[-1800,-1600,-1400,-1200,-800,-600,-400,-200,200,400,600,800,1200,1400,1600,1800],"labels":false,"domain":false,"tickSize":3,"title":null}},"y":{"field":"m","type":"quantitative","scale":{"domain":[0,0.1],"nice":false},"axis":{"orient":"right","values":[0,0.005,0.01,0.015,0.02,0.025,0.03,0.035,0.04,0.045,0.05,0.055,0.06,0.065,0.07,0.075,0.08,0.085,0.09,0.095,0.1],"labelExpr":"round(datum.value*1000) % 20 === 0 ? format(datum.value, '.2f') : ''","tickSize":{"condition":{"test":"round(datum.value*1000) % 20 === 0","value":5},"value":3},"labelColor":"#ff3010","title":"Reb1 motif/gene","titleColor":"#ff3010","titlePadding":6}}}},
   {"mark":{"type":"line","color":"#000","strokeWidth":2.4},"encoding":{"x":{"field":"x","type":"quantitative","axis":{"orient":"bottom","values":[-2000,-1000,0,1000,2000],"labelExpr":"'' + datum.value","tickSize":5,"title":"Distance from TSS (bp)","titlePadding":1}},"y":{"field":"k","type":"quantitative","scale":{"domain":[0,5],"nice":false},"axis":{"values":[0,0.5,1,1.5,2,2.5,3,3.5,4,4.5,5],"labelExpr":"datum.value % 1 === 0 ? '' + datum.value : ''","tickSize":{"condition":{"test":"datum.value % 1 === 0","value":5},"value":3},"title":"C","titleColor":"#ffffff","titlePadding":30}}}},
   {"mark":{"type":"line","color":"#1d3fff","strokeWidth":2.6},"encoding":{"x":{"field":"x","type":"quantitative","axis":null},"y":{"field":"f","type":"quantitative","scale":{"domain":[0,5],"nice":false},"axis":null}}},
   {"data":{"name":"lab"},"transform":[{"filter":"datum.p === 'TR' && datum.s === 'k'"}],"mark":{"type":"text","align":"right","fontSize":15,"color":"#000"},"encoding":{"x":{"field":"x","type":"quantitative","axis":null},"y":{"field":"y","type":"quantitative","scale":{"domain":[0,5],"nice":false},"axis":null},"text":{"field":"t"}}},
   {"data":{"name":"lab"},"transform":[{"filter":"datum.p === 'TR' && datum.s === 'f'"}],"mark":{"type":"text","align":"left","fontSize":16.5,"color":"#1d3fff"},"encoding":{"x":{"field":"x","type":"quantitative","axis":null},"y":{"field":"y","type":"quantitative","scale":{"domain":[0,5],"nice":false},"axis":null},"text":{"field":"t"}}}
  ],"resolve":{"scale":{"y":"independent"},"axis":{"x":"independent"}}}
 ],"spacing":46}
],"spacing":6},
{"concat":[
  {"width":235,"height":156,"data":{"name":"SA"},"layer":[
   {"mark":{"type":"area","color":"#ff3010"},"encoding":{"x":{"field":"x","type":"quantitative","scale":{"domain":[-2000,2000],"nice":false},"axis":{"orient":"bottom","values":[-1800,-1600,-1400,-1200,-800,-600,-400,-200,200,400,600,800,1200,1400,1600,1800],"labels":false,"domain":false,"tickSize":3,"title":null}},"y":{"field":"m","type":"quantitative","scale":{"domain":[0,0.1],"nice":false},"axis":{"orient":"right","values":[0,0.005,0.01,0.015,0.02,0.025,0.03,0.035,0.04,0.045,0.05,0.055,0.06,0.065,0.07,0.075,0.08,0.085,0.09,0.095,0.1],"labelExpr":"round(datum.value*1000) % 20 === 0 ? format(datum.value, '.2f') : ''","tickSize":{"condition":{"test":"round(datum.value*1000) % 20 === 0","value":5},"value":3},"labelColor":"#ff3010","title":"Abf1 motif/gene","titleColor":"#ff3010","titlePadding":6}}}},
   {"mark":{"type":"line","color":"#000","strokeWidth":2.4},"encoding":{"x":{"field":"x","type":"quantitative","axis":{"orient":"bottom","values":[-2000,-1000,0,1000,2000],"labelExpr":"'' + datum.value","tickSize":5,"title":"Distance from TSS (bp)","titlePadding":1}},"y":{"field":"k","type":"quantitative","scale":{"domain":[0,5],"nice":false},"axis":{"values":[0,0.5,1,1.5,2,2.5,3,3.5,4,4.5,5],"labelExpr":"datum.value % 1 === 0 ? '' + datum.value : ''","tickSize":{"condition":{"test":"datum.value % 1 === 0","value":5},"value":3},"title":"ChEC-seq cleavages","titlePadding":30}}}},
   {"mark":{"type":"line","color":"#1d3fff","strokeWidth":2.6},"encoding":{"x":{"field":"x","type":"quantitative","axis":null},"y":{"field":"f","type":"quantitative","scale":{"domain":[0,5],"nice":false},"axis":null}}},
   {"data":{"name":"lab"},"transform":[{"filter":"datum.p === 'SA' && datum.s === 'k'"}],"mark":{"type":"text","align":"right","fontSize":15,"color":"#000"},"encoding":{"x":{"field":"x","type":"quantitative","axis":null},"y":{"field":"y","type":"quantitative","scale":{"domain":[0,5],"nice":false},"axis":null},"text":{"field":"t"}}},
   {"data":{"name":"lab"},"transform":[{"filter":"datum.p === 'SA' && datum.s === 'f'"}],"mark":{"type":"text","align":"left","fontSize":16.5,"color":"#1d3fff"},"encoding":{"x":{"field":"x","type":"quantitative","axis":null},"y":{"field":"y","type":"quantitative","scale":{"domain":[0,5],"nice":false},"axis":null},"text":{"field":"t"}}}
  ],"resolve":{"scale":{"y":"independent"},"axis":{"x":"independent"}}},
  {"width":235,"height":156,"data":{"name":"TA"},"layer":[
   {"mark":{"type":"area","color":"#ff3010"},"encoding":{"x":{"field":"x","type":"quantitative","scale":{"domain":[-2000,2000],"nice":false},"axis":{"orient":"bottom","values":[-1800,-1600,-1400,-1200,-800,-600,-400,-200,200,400,600,800,1200,1400,1600,1800],"labels":false,"domain":false,"tickSize":3,"title":null}},"y":{"field":"m","type":"quantitative","scale":{"domain":[0,0.1],"nice":false},"axis":{"orient":"right","values":[0,0.005,0.01,0.015,0.02,0.025,0.03,0.035,0.04,0.045,0.05,0.055,0.06,0.065,0.07,0.075,0.08,0.085,0.09,0.095,0.1],"labelExpr":"round(datum.value*1000) % 20 === 0 ? format(datum.value, '.2f') : ''","tickSize":{"condition":{"test":"round(datum.value*1000) % 20 === 0","value":5},"value":3},"labelColor":"#ff3010","title":"Abf1 motif/gene","titleColor":"#ff3010","titlePadding":6}}}},
   {"mark":{"type":"line","color":"#000","strokeWidth":2.4},"encoding":{"x":{"field":"x","type":"quantitative","axis":{"orient":"bottom","values":[-2000,-1000,0,1000,2000],"labelExpr":"'' + datum.value","tickSize":5,"title":"Distance from TSS (bp)","titlePadding":1}},"y":{"field":"k","type":"quantitative","scale":{"domain":[0,5],"nice":false},"axis":{"values":[0,0.5,1,1.5,2,2.5,3,3.5,4,4.5,5],"labelExpr":"datum.value % 1 === 0 ? '' + datum.value : ''","tickSize":{"condition":{"test":"datum.value % 1 === 0","value":5},"value":3},"title":"ChEC-seq cleavages","titlePadding":30}}}},
   {"mark":{"type":"line","color":"#1d3fff","strokeWidth":2.6},"encoding":{"x":{"field":"x","type":"quantitative","axis":null},"y":{"field":"f","type":"quantitative","scale":{"domain":[0,5],"nice":false},"axis":null}}},
   {"data":{"name":"lab"},"transform":[{"filter":"datum.p === 'TA' && datum.s === 'k'"}],"mark":{"type":"text","align":"right","fontSize":15,"color":"#000"},"encoding":{"x":{"field":"x","type":"quantitative","axis":null},"y":{"field":"y","type":"quantitative","scale":{"domain":[0,5],"nice":false},"axis":null},"text":{"field":"t"}}},
   {"data":{"name":"lab"},"transform":[{"filter":"datum.p === 'TA' && datum.s === 'f'"}],"mark":{"type":"text","align":"left","fontSize":16.5,"color":"#1d3fff"},"encoding":{"x":{"field":"x","type":"quantitative","axis":null},"y":{"field":"y","type":"quantitative","scale":{"domain":[0,5],"nice":false},"axis":null},"text":{"field":"t"}}}
  ],"resolve":{"scale":{"y":"independent"},"axis":{"x":"independent"}}},
  {"width":235,"height":156,"data":{"name":"SP"},"layer":[
   {"mark":{"type":"area","color":"#ff3010"},"encoding":{"x":{"field":"x","type":"quantitative","scale":{"domain":[-2000,2000],"nice":false},"axis":{"orient":"bottom","values":[-1800,-1600,-1400,-1200,-800,-600,-400,-200,200,400,600,800,1200,1400,1600,1800],"labels":false,"domain":false,"tickSize":3,"title":null}},"y":{"field":"m","type":"quantitative","scale":{"domain":[0,0.1],"nice":false},"axis":{"orient":"right","values":[0,0.005,0.01,0.015,0.02,0.025,0.03,0.035,0.04,0.045,0.05,0.055,0.06,0.065,0.07,0.075,0.08,0.085,0.09,0.095,0.1],"labelExpr":"round(datum.value*1000) % 20 === 0 ? format(datum.value, '.2f') : ''","tickSize":{"condition":{"test":"round(datum.value*1000) % 20 === 0","value":5},"value":3},"labelColor":"#ff3010","title":"Rap1 motif/gene","titleColor":"#ff3010","titlePadding":6}}}},
   {"mark":{"type":"line","color":"#000","strokeWidth":2.4},"encoding":{"x":{"field":"x","type":"quantitative","axis":{"orient":"bottom","values":[-2000,-1000,0,1000,2000],"labelExpr":"'' + datum.value","tickSize":5,"title":"Distance from TSS (bp)","titlePadding":1}},"y":{"field":"k","type":"quantitative","scale":{"domain":[0,5],"nice":false},"axis":{"values":[0,0.5,1,1.5,2,2.5,3,3.5,4,4.5,5],"labelExpr":"datum.value % 1 === 0 ? '' + datum.value : ''","tickSize":{"condition":{"test":"datum.value % 1 === 0","value":5},"value":3},"title":null}}}},
   {"mark":{"type":"line","color":"#1d3fff","strokeWidth":2.6},"encoding":{"x":{"field":"x","type":"quantitative","axis":null},"y":{"field":"f","type":"quantitative","scale":{"domain":[0,5],"nice":false},"axis":null}}},
   {"data":{"name":"lab"},"transform":[{"filter":"datum.p === 'SP' && datum.s === 'k'"}],"mark":{"type":"text","align":"right","fontSize":15,"color":"#000"},"encoding":{"x":{"field":"x","type":"quantitative","axis":null},"y":{"field":"y","type":"quantitative","scale":{"domain":[0,5],"nice":false},"axis":null},"text":{"field":"t"}}},
   {"data":{"name":"lab"},"transform":[{"filter":"datum.p === 'SP' && datum.s === 'f'"}],"mark":{"type":"text","align":"left","fontSize":16.5,"color":"#1d3fff"},"encoding":{"x":{"field":"x","type":"quantitative","axis":null},"y":{"field":"y","type":"quantitative","scale":{"domain":[0,5],"nice":false},"axis":null},"text":{"field":"t"}}}
  ],"resolve":{"scale":{"y":"independent"},"axis":{"x":"independent"}}},
  {"width":235,"height":156,"data":{"name":"TP"},"layer":[
   {"mark":{"type":"area","color":"#ff3010"},"encoding":{"x":{"field":"x","type":"quantitative","scale":{"domain":[-2000,2000],"nice":false},"axis":{"orient":"bottom","values":[-1800,-1600,-1400,-1200,-800,-600,-400,-200,200,400,600,800,1200,1400,1600,1800],"labels":false,"domain":false,"tickSize":3,"title":null}},"y":{"field":"m","type":"quantitative","scale":{"domain":[0,0.1],"nice":false},"axis":{"orient":"right","values":[0,0.005,0.01,0.015,0.02,0.025,0.03,0.035,0.04,0.045,0.05,0.055,0.06,0.065,0.07,0.075,0.08,0.085,0.09,0.095,0.1],"labelExpr":"round(datum.value*1000) % 20 === 0 ? format(datum.value, '.2f') : ''","tickSize":{"condition":{"test":"round(datum.value*1000) % 20 === 0","value":5},"value":3},"labelColor":"#ff3010","title":"Rap1 motif/gene","titleColor":"#ff3010","titlePadding":6}}}},
   {"mark":{"type":"line","color":"#000","strokeWidth":2.4},"encoding":{"x":{"field":"x","type":"quantitative","axis":{"orient":"bottom","values":[-2000,-1000,0,1000,2000],"labelExpr":"'' + datum.value","tickSize":5,"title":"Distance from TSS (bp)","titlePadding":1}},"y":{"field":"k","type":"quantitative","scale":{"domain":[0,5],"nice":false},"axis":{"values":[0,0.5,1,1.5,2,2.5,3,3.5,4,4.5,5],"labelExpr":"datum.value % 1 === 0 ? '' + datum.value : ''","tickSize":{"condition":{"test":"datum.value % 1 === 0","value":5},"value":3},"title":null}}}},
   {"mark":{"type":"line","color":"#1d3fff","strokeWidth":2.6},"encoding":{"x":{"field":"x","type":"quantitative","axis":null},"y":{"field":"f","type":"quantitative","scale":{"domain":[0,5],"nice":false},"axis":null}}},
   {"data":{"name":"lab"},"transform":[{"filter":"datum.p === 'TP' && datum.s === 'k'"}],"mark":{"type":"text","align":"right","fontSize":15,"color":"#000"},"encoding":{"x":{"field":"x","type":"quantitative","axis":null},"y":{"field":"y","type":"quantitative","scale":{"domain":[0,5],"nice":false},"axis":null},"text":{"field":"t"}}},
   {"data":{"name":"lab"},"transform":[{"filter":"datum.p === 'TP' && datum.s === 'f'"}],"mark":{"type":"text","align":"left","fontSize":16.5,"color":"#1d3fff"},"encoding":{"x":{"field":"x","type":"quantitative","axis":null},"y":{"field":"y","type":"quantitative","scale":{"domain":[0,5],"nice":false},"axis":null},"text":{"field":"t"}}}
  ],"resolve":{"scale":{"y":"independent"},"axis":{"x":"independent"}}}
 ],"columns":2,"spacing":{"row":22,"column":46}}
],
"spacing":23
}
